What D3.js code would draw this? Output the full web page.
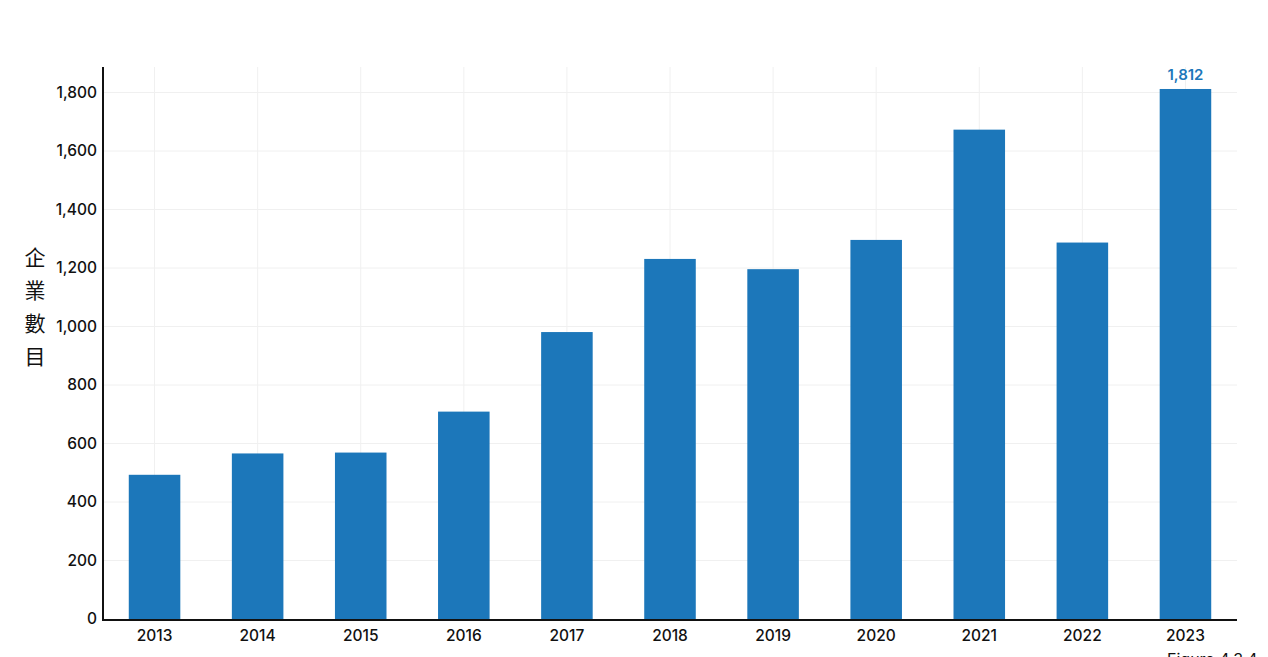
<!DOCTYPE html>
<html>
<head>
<meta charset="utf-8">
<script src="https://cdn.jsdelivr.net/npm/d3@7"></script>
<style>
  html, body { margin: 0; padding: 0; background: #fff; }
  svg { display: block; }
  text { font-family: Inter, Roboto, "Noto Sans", sans-serif; }
</style>
</head>
<body>
<svg id="chart" width="1268" height="657"></svg>
<script>
const years = ["2013","2014","2015","2016","2017","2018","2019","2020","2021","2022","2023"];
const counts = [493, 566, 569, 709, 981, 1231, 1196, 1296, 1673, 1287, 1812];
const yTicks = [0, 200, 400, 600, 800, 1000, 1200, 1400, 1600, 1800];
const yLabelChars = ["企", "業", "數", "目"];
const highlightLabel = "1,812";
const figureCaption = "Figure 4.3.4";

const svg = d3.select("#chart");
const mLeft = 103, mRight = 1237, mTop = 67, mBottom = 619;

const x = d3.scaleBand().domain(years).range([mLeft, mRight]).paddingInner(0.5).paddingOuter(0.25);
const y = d3.scaleLinear().domain([0, 1800]).range([mBottom, 92.5]);

// grid
const grid = svg.append("g");
grid.selectAll("line.h").data(yTicks.slice(1)).enter().append("line")
  .attr("x1", mLeft).attr("x2", mRight)
  .attr("y1", d => y(d)).attr("y2", d => y(d))
  .attr("stroke", "#f0f0f0").attr("stroke-width", 1);
grid.selectAll("line.v").data(years).enter().append("line")
  .attr("x1", d => x(d) + x.bandwidth() / 2).attr("x2", d => x(d) + x.bandwidth() / 2)
  .attr("y1", mTop).attr("y2", mBottom)
  .attr("stroke", "#f0f0f0").attr("stroke-width", 1);

// bars
svg.append("g").selectAll("rect").data(years).enter().append("rect")
  .attr("x", d => x(d))
  .attr("width", x.bandwidth())
  .attr("y", (d, i) => y(counts[i]))
  .attr("height", (d, i) => y(0) - y(counts[i]))
  .attr("fill", "#1c77ba");

// highlight label on last bar
svg.append("text")
  .attr("x", x("2023") + x.bandwidth() / 2)
  .attr("y", y(counts[counts.length - 1]) - 9)
  .attr("text-anchor", "middle")
  .attr("font-size", 15).attr("font-weight", 600)
  .attr("fill", "#1c77ba")
  .text(highlightLabel);

// axes
const yAxis = d3.axisLeft(y).tickValues(yTicks).tickSize(0).tickPadding(6)
  .tickFormat(d3.format(","));
const gy = svg.append("g").attr("transform", `translate(${mLeft},0)`).call(yAxis);
gy.select(".domain").remove();
gy.selectAll("text").attr("font-size", 15.5).attr("font-weight", 500).attr("fill", "#111")
  .style("font-family", "Inter, Roboto, sans-serif");

const xAxis = d3.axisBottom(x).tickSize(0).tickPadding(11);
const gx = svg.append("g").attr("transform", `translate(0,${mBottom})`).call(xAxis);
gx.select(".domain").remove();
gx.selectAll("text").attr("font-size", 15.5).attr("font-weight", 500).attr("fill", "#111")
  .style("font-family", "Inter, Roboto, sans-serif");

svg.append("line").attr("x1", mLeft).attr("x2", mLeft).attr("y1", mTop).attr("y2", mBottom + 1)
  .attr("stroke", "#111").attr("stroke-width", 2);
svg.append("line").attr("x1", mLeft - 1).attr("x2", mRight).attr("y1", mBottom + 1).attr("y2", mBottom + 1)
  .attr("stroke", "#111").attr("stroke-width", 2);

// y label, stacked vertical characters
const yl = svg.append("text")
  .attr("text-anchor", "middle")
  .attr("font-size", 21)
  .attr("fill", "#111")
  .style("font-family", "'Noto Sans CJK TC', 'Noto Sans CJK SC', sans-serif");
yLabelChars.forEach((c, i) => {
  yl.append("tspan").attr("x", 35).attr("y", 265 + i * 33).text(c);
});

// caption (partly below the bottom edge, as in the reference)
svg.append("text")
  .attr("x", 1167).attr("y", 665)
  .attr("font-size", 16).attr("fill", "#111")
  .text(figureCaption);
</script>
</body>
</html>
